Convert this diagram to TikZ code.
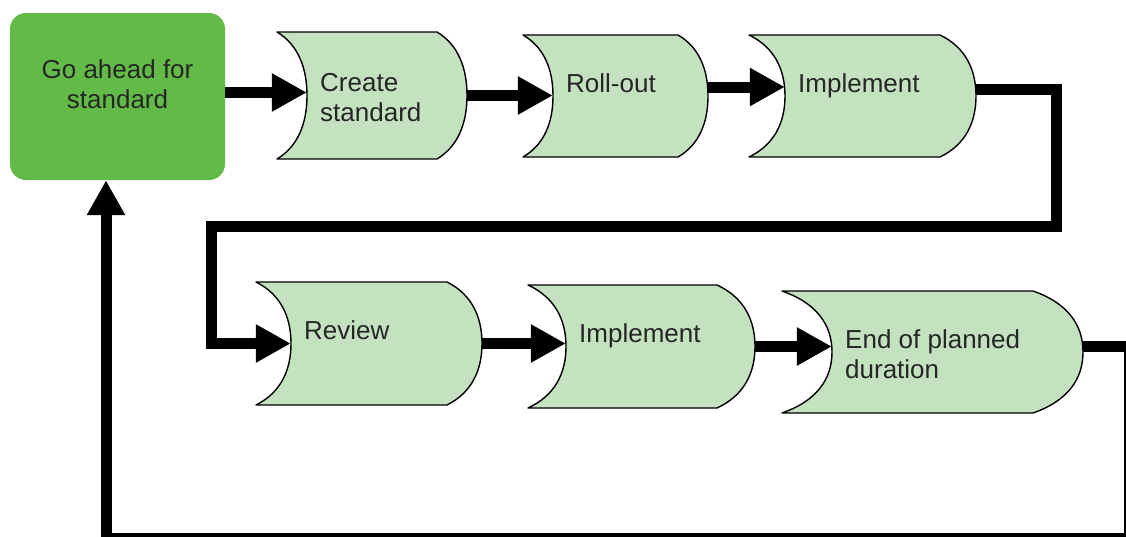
\documentclass[tikz,border=0pt]{standalone}
\usepackage{fontspec}
\setmainfont{Liberation Sans}
\usetikzlibrary{arrows.meta}
\definecolor{gogreen}{HTML}{62BB47}
\definecolor{lightgreen}{HTML}{C4E2C0}
\definecolor{txt}{HTML}{262626}
\tikzset{
  shapeline/.style={draw=black, fill=lightgreen, line width=1.4pt, line join=round},
  stext/.style={inner sep=0pt, align=left, text=txt, font=\fontsize{26}{30}\selectfont},
  gobox/.style={fill=gogreen, draw=none, rounded corners=16pt, inner sep=0pt},
  flow/.style={line width=11pt, line join=miter, -{Triangle[length=35pt,width=36pt]}},
}
% #1 name, #2 xl, #3 yt, #4 xr, #5 yb, #6 curve depth, #7 extra baseline offset, #8 text
\newcommand\drawstore[8]{%
  \pgfmathsetmacro\sh{#5-#3}%
  \pgfmathsetmacro\sm{(#3+#5)/2}%
  \draw[shapeline] (#2,#3) -- (#4,#3)
    .. controls ({#4+0.7*#6},{#3+0.1*\sh}) and ({#4+#6},{#3+0.28*\sh}) .. ({#4+#6},\sm)
    .. controls ({#4+#6},{#5-0.28*\sh}) and ({#4+0.7*#6},{#5-0.1*\sh}) .. (#4,#5)
    -- (#2,#5)
    .. controls ({#2+0.7*#6},{#5-0.1*\sh}) and ({#2+#6},{#5-0.28*\sh}) .. ({#2+#6},\sm)
    .. controls ({#2+#6},{#3+0.28*\sh}) and ({#2+0.7*#6},{#3+0.1*\sh}) .. cycle;
  \node[inner sep=0pt, minimum width={(#4-#2)*1pt}, minimum height={\sh*1pt}] (#1) at ({(#2+#4)/2+#6},\sm) {};
  \node[stext, anchor=base west] (#1-t) at ({#2+#6+13},{\sm-4+#7}) {#8};
}
\begin{document}
\begin{tikzpicture}[x=1pt,y=-1pt]
\useasboundingbox (0,0) rectangle (1126,536);
\clip (0,0) rectangle (1126,536);

\node[gobox, minimum width=215pt, minimum height=167pt] (go) at (117.5,96.5) {};
\node[stext, align=center, anchor=base] (go-t) at (117.5,108) {Go ahead for\\standard};

\drawstore{create}{277}{32}{437}{159}{30}{30}{Create\\standard}
\drawstore{rollout}{523}{35}{678}{157}{30}{0}{Roll-out}
\drawstore{implA}{749}{35}{940}{157}{36}{0}{Implement}
\drawstore{review}{256}{282}{447}{405}{35}{0}{Review}
\drawstore{implB}{528}{285}{717}{408}{38}{0}{Implement}
\drawstore{endp}{782}{291}{1033}{413}{50}{30}{End of planned\\duration}

\coordinate (k1) at (1056,226);
\coordinate (k2) at (211,226);
\coordinate (k3) at (1129,538);
\coordinate (k4) at (106,538);

\draw[flow] ([yshift=4pt]go.east) -- ([yshift=4pt]go.east -| create.west);
\draw[flow] (create.east) -- (create.east -| rollout.west);
\draw[flow] ([yshift=9pt]rollout.east) -- ([yshift=9pt]rollout.east -| implA.west);
\draw[flow] ([yshift=7pt]implA.east) -| (k1) -- (k2) |- (review.west);
\draw[flow] (review.east) -- (review.east -| implB.west);
\draw[flow] (implB.east) -- (implB.east -| endp.west);
\draw[flow] ([yshift=6pt]endp.east) -| (k3) -- (k4) -- (k4 |- go.south);
\end{tikzpicture}
\end{document}
